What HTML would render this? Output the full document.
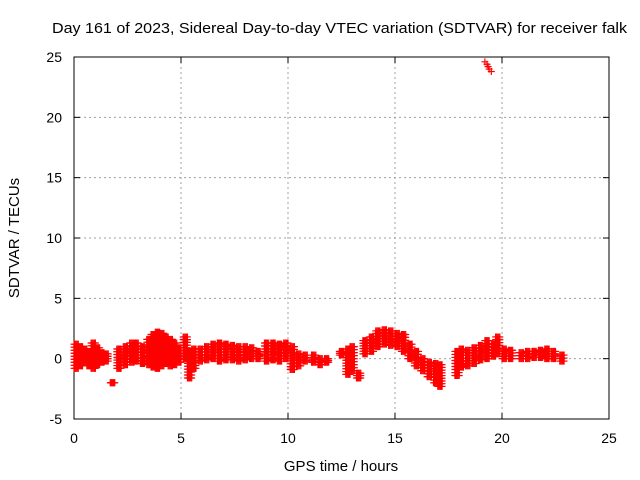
<!DOCTYPE html>
<html><head><meta charset="utf-8"><style>
body{margin:0;background:#fff;}
svg{display:block;font-family:"Liberation Sans",sans-serif;}
</style></head><body>
<svg id="c" width="640" height="480">
<text x="52" y="33" font-size="15" textLength="575" lengthAdjust="spacingAndGlyphs">Day 161 of 2023, Sidereal Day-to-day VTEC variation (SDTVAR) for receiver falk</text>
<g id="grid"></g>
<g id="axes"></g>
<g id="pts"></g>
<text x="341" y="471" font-size="15" text-anchor="middle">GPS time / hours</text>
<text transform="translate(19,238) rotate(-90)" font-size="15" text-anchor="middle">SDTVAR / TECUs</text>
</svg>
<script>
const xTicks=[0,5,10,15,20,25];
const yTicks=[-5,0,5,10,15,20,25];
const times=[0.1,0.3,0.5,0.7,0.9,1.1,1.3,1.5,1.8,2.1,2.4,2.7,2.9,3.2,3.5,3.7,3.9,4.1,4.3,4.5,4.7,4.9,5.2,5.4,5.6,5.9,6.2,6.5,6.8,7.1,7.4,7.7,8.0,8.3,8.6,9.0,9.3,9.6,9.9,10.2,10.5,10.8,11.2,11.5,11.8,12.5,12.8,13.0,13.3,13.6,13.9,14.2,14.5,14.8,15.1,15.4,15.7,16.0,16.3,16.6,16.9,17.1,17.9,18.1,18.4,18.7,19.0,19.3,19.6,19.8,20.1,20.4,20.9,21.2,21.5,21.8,22.1,22.4,22.8];
const lows=[-0.8,-0.6,-0.3,-0.6,-0.8,-0.5,-0.3,-0.2,-2.0,-0.8,-0.5,-0.3,-0.2,-0.4,-0.5,-0.7,-0.8,-0.6,-0.4,-0.6,-0.5,-0.3,0.0,-1.6,-0.8,-0.2,-0.1,0.0,-0.2,-0.1,-0.1,-0.2,-0.1,0.0,0.0,-0.2,-0.1,-0.2,0.0,-0.9,-0.6,-0.2,-0.3,-0.5,-0.3,0.3,-1.3,-1.0,-1.6,0.4,0.6,1.0,1.2,1.1,1.0,0.6,0.0,-0.6,-1.0,-1.5,-2.0,-2.3,-1.4,-0.7,-0.6,-0.4,-0.1,0.0,0.2,0.4,0.0,0.0,0.0,0.0,0.1,0.1,0.0,0.0,-0.2];
const highs=[1.2,1.0,0.8,0.6,1.3,0.9,0.5,0.4,-2.0,0.8,1.0,1.3,1.3,1.0,1.6,2.0,2.2,2.1,1.8,1.6,1.3,0.9,1.8,0.6,0.8,0.8,1.0,1.2,1.3,1.2,1.1,1.0,1.0,0.9,0.6,1.3,1.3,1.2,1.3,1.0,0.4,0.3,0.3,0.0,0.0,0.6,0.8,1.0,-1.2,1.5,1.8,2.3,2.4,2.3,2.1,2.0,1.2,0.6,0.0,-0.3,-0.4,-0.5,0.6,0.8,0.7,0.9,1.1,1.5,1.2,1.8,0.8,0.7,0.5,0.6,0.6,0.7,0.8,0.6,0.3];
const outT=[19.2,19.3,19.35,19.4,19.5];
const outV=[24.6,24.4,24.2,24.0,23.8];
const X0=74,X1=609,Y0=419,Y1=57;
const sx=t=>X0+(t-0)/(25-0)*(X1-X0);
const sy=v=>Y0-(v+5)/30*(Y0-Y1);
const NS="http://www.w3.org/2000/svg";
function mk(tag,attrs,parent){const e=document.createElementNS(NS,tag);for(const k in attrs)e.setAttribute(k,attrs[k]);parent.appendChild(e);return e;}
const grid=document.getElementById('grid'),axes=document.getElementById('axes'),pts=document.getElementById('pts');
xTicks.forEach(t=>{
  const x=sx(t);
  if(t>0&&t<25){const l=mk('line',{x1:x,x2:x,y1:Y1,y2:Y0,stroke:'#a0a0a0','stroke-dasharray':'2,3'},grid);
  
  }
  const tx=mk('text',{x:x,y:443,'font-size':14,'text-anchor':'middle'},axes);tx.textContent=t;
  
  
  mk('line',{x1:x,x2:x,y1:Y0,y2:Y0-6,stroke:'#000'},axes);
  mk('line',{x1:x,x2:x,y1:Y1,y2:Y1+6,stroke:'#000'},axes);
});
yTicks.forEach(v=>{
  const y=sy(v);
  if(v>-5&&v<25){const l=mk('line',{x1:X0,x2:X1,y1:y,y2:y,stroke:'#a0a0a0','stroke-dasharray':'2,3'},grid);
  
  }
  const tx=mk('text',{x:62,y:y+5,'font-size':14,'text-anchor':'end'},axes);tx.textContent=v;
  
  
  mk('line',{x1:X0,x2:X0+6,y1:y,y2:y,stroke:'#000'},axes);
  mk('line',{x1:X1,x2:X1-6,y1:y,y2:y,stroke:'#000'},axes);
});
const fr=mk('rect',{x:X0,y:Y1,width:X1-X0,height:Y0-Y1,fill:'none',stroke:'#000'},axes);


function plus(t,v){
  const x=sx(t),y=sy(v);
  const p=mk('path',{d:`M${x-3.5},${y}h7M${x},${y-3.5}v7`,stroke:'#f00','stroke-width':1.2},pts);
  
  
}
times.forEach((t,i)=>{
  const lo=lows[i],hi=highs[i];
  const n=Math.max(1,Math.ceil((hi-lo)/0.25));
  for(let k=0;k<=n;k++){
    const v=lo+(hi-lo)*k/n;
    for(let d=-0.1;d<=0.11;d+=0.05)plus(t+d,v);
  }
});
outT.forEach((t,i)=>plus(t,outV[i]));
</script>
</body></html>
